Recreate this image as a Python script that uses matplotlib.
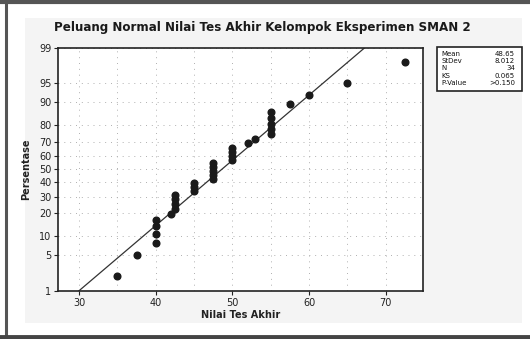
from statistics import NormalDist
import numpy as np
import matplotlib
matplotlib.use("Agg")
import matplotlib.pyplot as plt
from matplotlib.patches import Rectangle
from matplotlib.lines import Line2D

# nilai tes akhir kelompok eksperimen (sudah diurutkan)
scores = [35, 37.5, 40, 40, 40, 40, 42, 42.5, 42.5, 42.5, 42.5,
          45, 45, 45, 47.5, 47.5, 47.5, 47.5, 47.5, 50, 50, 50, 50,
          52, 53, 55, 55, 55, 55, 55, 57.5, 60, 65, 72.5]
mean = 48.65
stdev = 8.012
pct_ticks = [1, 5, 10, 20, 30, 40, 50, 60, 70, 80, 90, 95, 99]
x_ticks = [30, 40, 50, 60, 70]
stat_names = ["Mean", "StDev", "N", "KS", "P-Value"]
stat_values = ["48.65", "8.012", "34", "0.065", ">0.150"]

nd = NormalDist()
_ppf = np.vectorize(nd.inv_cdf, otypes=[float])
_cdf = np.vectorize(nd.cdf, otypes=[float])


def probit(p):
    p = np.clip(np.asarray(p, dtype=float) / 100.0, 1e-9, 1 - 1e-9)
    return _ppf(p)


def inv_probit(z):
    return _cdf(np.asarray(z, dtype=float)) * 100.0


n = len(scores)
ranks = np.arange(1, n + 1)
pct = (ranks - 0.3) / (n + 0.4) * 100  # median ranks

W, H = 530, 339
fig = plt.figure(figsize=(W / 100, H / 100), dpi=100)
fig.patch.set_facecolor("white")

# panel abu-abu muda di belakang grafik
fig.add_artist(Rectangle((25 / W, 1 - 323 / H), (522 - 25) / W, (323 - 18) / H,
                         transform=fig.transFigure, facecolor="#f4f4f4",
                         edgecolor="none", zorder=0))
# bingkai hasil scan
fig.add_artist(Line2D([6 / W, 6 / W], [0, 1], transform=fig.transFigure,
                      color="#555555", lw=2.2))
fig.add_artist(Line2D([0, 1], [1 - 1.5 / H, 1 - 1.5 / H], transform=fig.transFigure,
                      color="#555555", lw=3))
fig.add_artist(Line2D([0, 1], [2 / H, 2 / H], transform=fig.transFigure,
                      color="#444444", lw=3.5))

ax = fig.add_axes([58.3 / W, 1 - 290.7 / H, (423 - 58.3) / W, (290.7 - 47.5) / H])
ax.set_facecolor("white")
ax.set_yscale("function", functions=(probit, inv_probit))
ax.set_xlim(27.3, 74.85)
ax.set_ylim(1, 99)

# garis distribusi normal dari mean dan stdev
xl = np.array(ax.get_xlim())
ax.plot(xl, inv_probit((xl - mean) / stdev), color="#333333", lw=0.9, zorder=2)
ax.plot(scores, pct, "o", color="#1a1a1a", markersize=4.8, zorder=3)

ax.set_yticks(pct_ticks)
ax.set_yticklabels([str(p) for p in pct_ticks])
ax.set_xticks(x_ticks)
ax.set_xticks(np.arange(35, 75, 10), minor=True)
ax.yaxis.set_minor_locator(matplotlib.ticker.NullLocator())
ax.tick_params(axis="both", which="major", direction="out", length=3,
               width=0.8, labelsize=7, pad=2, colors="#222222")
ax.tick_params(axis="x", which="minor", length=0)
ax.grid(True, which="both", axis="x", color="#b0b0b0", lw=0.7, ls=(0, (1, 5)))
ax.grid(True, which="major", axis="y", color="#b0b0b0", lw=0.7, ls=(0, (1, 5)))
for sp in ax.spines.values():
    sp.set_color("#222222")
    sp.set_linewidth(1.2)

ax.set_xlabel("Nilai Tes Akhir", fontsize=7, fontweight="bold", labelpad=2, color="#222222")
ax.set_ylabel("Persentase", fontsize=7, fontweight="bold", labelpad=6, color="#222222")

fig.text(262 / W, 1 - 27 / H, "Peluang Normal Nilai Tes Akhir Kelompok Eksperimen SMAN 2",
         ha="center", va="center", fontsize=8.6, fontweight="bold", color="#1a1a1a")

# kotak statistik
fig.add_artist(Rectangle((437 / W, 1 - 90.7 / H), (521.7 - 437) / W, (90.7 - 46.7) / H,
                         transform=fig.transFigure, facecolor="white",
                         edgecolor="#222222", lw=1.2, zorder=3))
for i, (name, val) in enumerate(zip(stat_names, stat_values)):
    yy = 1 - (53.5 + i * 7.4) / H
    fig.text(441 / W, yy, name, ha="left", va="center", fontsize=5, color="#111111", zorder=4)
    fig.text(515 / W, yy, val, ha="right", va="center", fontsize=5, color="#111111", zorder=4)

fig.savefig("out.png", dpi=100)
